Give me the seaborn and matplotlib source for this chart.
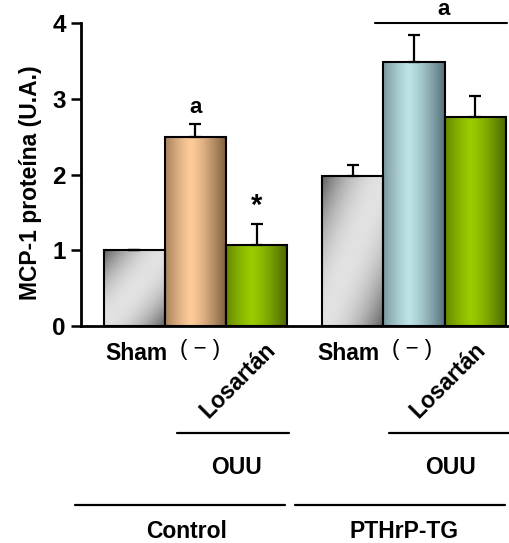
import numpy as np
import pandas as pd
import matplotlib
matplotlib.use("Agg")
import matplotlib.pyplot as plt
from matplotlib.lines import Line2D
import seaborn as sns

sns.set_style("ticks")
plt.rcParams['font.family'] = ['Liberation Sans', 'DejaVu Sans']
plt.rcParams['font.weight'] = 'bold'
plt.rcParams['text.color'] = 'black'
plt.rcParams['axes.labelcolor'] = 'black'
plt.rcParams['axes.edgecolor'] = 'black'
plt.rcParams['ytick.color'] = 'black'

# ---- data ----
grupos = ["Control", "Control", "Control", "PTHrP-TG", "PTHrP-TG", "PTHrP-TG"]
tratamientos = ["Sham", "OUU", "OUU + Losartán", "Sham", "OUU", "OUU + Losartán"]
medias = [1.00, 2.49, 1.07, 1.98, 3.48, 2.76]
errores = [0.00, 0.18, 0.27, 0.14, 0.36, 0.28]
yticks = [0, 1, 2, 3, 4]

df = pd.DataFrame({"grupo": grupos, "tratamiento": tratamientos, "valor": medias})

# gradient styles per bar (light, dark, kind)
estilos = [
    ("#e2e2e2", "#5e5e5e", "diag"),
    ("#ffcc99", "#7a5a3c", "horiz"),
    ("#99cc00", "#4a6400", "horiz"),
    ("#e2e2e2", "#5e5e5e", "diag"),
    ("#bce3e6", "#56707a", "horiz"),
    ("#99cc00", "#4a6400", "horiz"),
]

W, H = 510, 543
fig = plt.figure(figsize=(W / 100, H / 100), dpi=100)
ax = fig.add_axes([81 / W, 1 - 326 / H, (509 - 81) / W, (326 - 23) / H])

sns.barplot(data=df, x="grupo", y="valor", hue="tratamiento",
            order=["Control", "PTHrP-TG"],
            hue_order=["Sham", "OUU", "OUU + Losartán"],
            palette=["#cccccc", "#ffcc99", "#99cc00"],
            width=0.84, errorbar=None, legend=False,
            edgecolor="black", linewidth=1.5, ax=ax)


def gradiente(light, dark, kind, n=200):
    c1 = np.array(matplotlib.colors.to_rgb(light))
    c2 = np.array(matplotlib.colors.to_rgb(dark))
    if kind == "horiz":
        t = np.linspace(0, 1, n)
        k = np.clip(np.abs(t - 0.42) / 0.58, 0, 1) ** 1.3
        k = np.tile(k, (2, 1))
    else:
        xf, yf = np.meshgrid(np.linspace(0, 1, n), np.linspace(0, 1, n))
        u = (xf + 1 - yf) / 2
        k = np.clip(np.abs(u - 0.5) / 0.5, 0, 1) ** 2
    return c1 * (1 - k[..., None]) + c2 * k[..., None]


barras = sorted([p for p in ax.patches if p.get_height() > 0], key=lambda p: p.get_x())
centros = []
for p, (light, dark, kind) in zip(barras, estilos):
    x0, w, h = p.get_x(), p.get_width(), p.get_height()
    img = ax.imshow(gradiente(light, dark, kind), extent=(x0, x0 + w, 0, h),
                    origin="lower", aspect="auto", zorder=2, interpolation="bilinear")
    img.set_clip_path(p)
    p.set_facecolor("none")
    p.set_zorder(3)
    centros.append(x0 + w / 2)

ax.errorbar(centros, medias, yerr=[np.zeros(len(errores)), errores], fmt="none",
            ecolor="black", elinewidth=1.6, capsize=4.3, capthick=1.6, zorder=4)

ax.set_xlim(-0.524, 1.435)
ax.set_ylim(0, 4)
ax.set_yticks(yticks)
ax.set_xticks([])
ax.set_xlabel("")
ax.set_ylabel("MCP-1 proteína (U.A.)", fontsize=16.5, fontweight="bold")
ax.yaxis.set_label_coords(-0.092, 0.474)
ax.tick_params(axis="y", labelsize=17.5, width=1.8, length=7, pad=4)
for lab in ax.get_yticklabels():
    lab.set_fontweight("bold")
sns.despine(ax=ax)
ax.spines["left"].set_linewidth(2)
ax.spines["bottom"].set_linewidth(2)

# significance marks
ax.text(centros[1], medias[1] + errores[1] + 0.22, "a", ha="center", va="center",
        fontsize=16, fontweight="bold")
ax.text(centros[2], medias[2] + errores[2] + 0.24, "*", ha="center", va="center",
        fontsize=21, fontweight="bold")
ax.plot([0.821, 1.426], [4.0, 4.0], color="black", lw=1.5, clip_on=False)
ax.text(1.137, 4.175, "a", ha="center", va="center", fontsize=16,
        fontweight="bold", clip_on=False)


# labels under the axis (figure pixel positions)
def ftext(x, y, s, weight="bold", **kw):
    fig.text(x / W, 1 - y / H, s, ha="center", va="center", fontweight=weight, **kw)


def fline(x0, x1, y):
    fig.add_artist(Line2D([x0 / W, x1 / W], [1 - y / H, 1 - y / H],
                          color="black", lw=1.6, transform=fig.transFigure))


for dx in (0, 212):
    ftext(136 + dx, 354, "Sham", fontsize=16.5)
    ftext(200 + dx, 350, "( − )", weight="normal", fontsize=16)
    ftext(238 + dx - (dx and 2), 380, "Losartán", fontsize=16.5, rotation=45)
for (a, b), cx in (((177, 289), 237), ((389, 510), 451)):
    fline(a, b, 433)
    ftext(cx, 467, "OUU", fontsize=16.5)
fline(75, 285, 505)
fline(295, 505, 505)
ftext(187, 531, "Control", fontsize=16.5)
ftext(404, 531, "PTHrP-TG", fontsize=16.5)

fig.savefig("out.png", dpi=100)
